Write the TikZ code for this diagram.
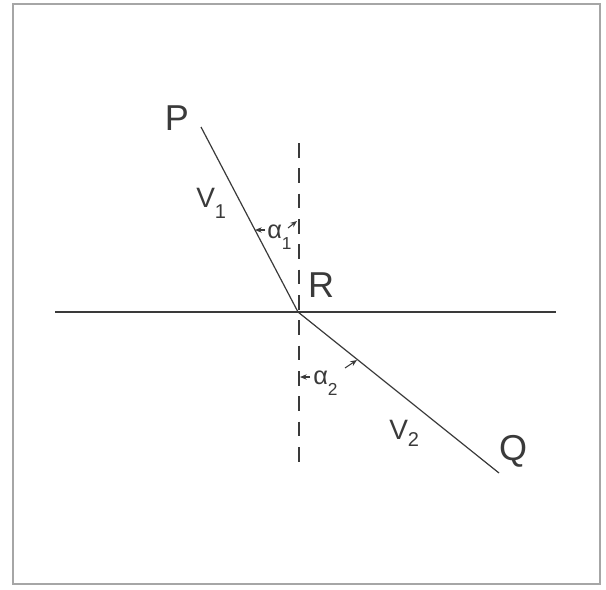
\documentclass[tikz,border=0pt]{standalone}
\usepackage{fontspec}
\setmainfont{Liberation Sans}
\usetikzlibrary{arrows.meta}
\definecolor{ink}{HTML}{3A3A3A}
\begin{document}
\begin{tikzpicture}[x=0.75pt,y=-0.75pt,
  ln/.style={draw=ink,line width=0.9pt},
  dsh/.style={draw=ink,line width=0.9pt,dash pattern=on 11pt off 8pt},
  lbl/.style={text=ink,inner sep=0pt,font=\fontsize{27}{30}\selectfont},
  vlbl/.style={text=ink,inner sep=0pt,font=\fontsize{21}{24}\selectfont},
  alb/.style={text=ink,inner sep=0pt,font=\fontsize{19}{21}\selectfont},
  tip/.style={draw=ink,line width=0.8pt,-{Stealth[length=5pt,width=4pt]}}]
\useasboundingbox (0,0) rectangle (606,589);
\draw[draw=gray!70,line width=1.3pt] (13,4) rectangle (600,584);
% points
\coordinate (p) at (201,127);
\coordinate (r) at (298,312);
\coordinate (q) at (499,473);
\coordinate (hl) at (55,312);
\coordinate (hr) at (556,312);
\coordinate (dt) at (299,143);
\coordinate (db) at (299,465);
% lines
\draw[ln] (hl) -- (hr);
\draw[dsh] (dt) -- (db);
\draw[ln] (p) -- (r) -- (q);
% labels
\node[lbl] (P) at (177,118) {P};
\node[lbl] (R) at (321,285) {R};
\node[lbl] (Q) at (513,451) {Q};
\node[vlbl,anchor=base west] (V1) at (196,207) {V\raisebox{-0.4em}{\fontsize{15}{16}\selectfont 1}};
\node[vlbl,anchor=base west] (V2) at (389,439) {V\raisebox{-0.25em}{\fontsize{15}{16}\selectfont 2}};
\node[alb,anchor=base west] (a1) at (267,238) {α\raisebox{-0.45em}{\fontsize{13}{14}\selectfont 1}};
\node[alb,anchor=base west] (a2) at (313,384) {α\raisebox{-0.45em}{\fontsize{13}{14}\selectfont 2}};
% angle arrows
\coordinate (a1l) at (255,230);
\coordinate (a1r) at (297,221);
\coordinate (a2l) at (300,377);
\coordinate (a2r) at (357,360);
\draw[tip] (265,230) coordinate (s1) (s1) -- (a1l);
\draw[tip] (288,228) coordinate (s2) (s2) -- (a1r);
\draw[tip] (310,377) coordinate (s3) (s3) -- (a2l);
\draw[tip] (345,368) coordinate (s4) (s4) -- (a2r);
\end{tikzpicture}
\end{document}
